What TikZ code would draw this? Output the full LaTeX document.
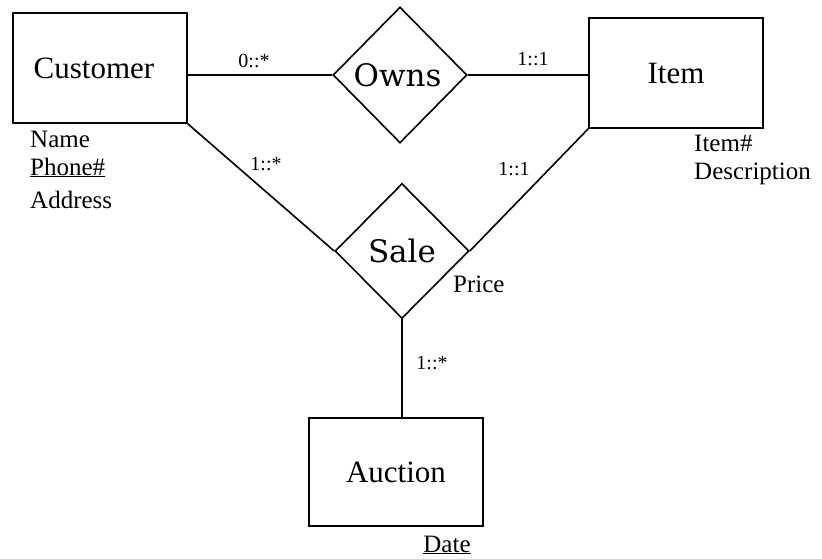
\documentclass[tikz,border=0pt]{standalone}
\usepackage{fontspec}
\setmainfont{Liberation Serif}
\newfontfamily\relfont{DejaVu Serif}
\usetikzlibrary{shapes.geometric}
\tikzset{
  entity/.style={draw, line width=1.6pt, rectangle, minimum width=174pt, minimum height=110pt, inner sep=0pt, font=\fontsize{31}{36}\selectfont},
  relation/.style={draw, line width=1.6pt, diamond, minimum width=134pt, minimum height=135pt, inner sep=0pt, aspect=1, font=\relfont\fontsize{31}{36}\selectfont},
  conn/.style={line width=1.6pt},
  card/.style={anchor=base, inner sep=0pt, font=\fontsize{20}{24}\selectfont},
  attr/.style={anchor=base west, inner sep=0pt, font=\fontsize{25}{30}\selectfont},
}
\begin{document}
\begin{tikzpicture}[x=1pt,y=-1pt]
\useasboundingbox (0,0) rectangle (822,558);
\node[entity] (cust) at (100,68) {\hspace*{-12pt}Customer};
\node[entity] (item) at (676,73) {Item};
\node[entity, minimum height=108pt] (auction) at (396,472) {Auction};
\node[relation, minimum height=136pt] (owns) at (400,75) {\raisebox{-2pt}{\hspace*{-5pt}Owns}};
\node[relation] (sale) at (402,251) {\raisebox{-2pt}{Sale}};

\draw[conn] (owns.west) -- (owns.west -| cust.east);
\draw[conn] (owns.east) -- (owns.east -| item.west);
\draw[conn] (cust.south east) -- (sale.west);
\draw[conn] (item.south west) -- (sale.east);
\draw[conn] (sale.south) -- (sale.south |- auction.north);

\node[card] (c1) at (254,67) {0::*};
\node[card] (c2) at (533,65) {1::1};
\node[card] (c3) at (266,170) {1::*};
\node[card] (c4) at (514,175) {1::1};
\node[card] (c5) at (432,369) {1::*};

\node[attr] (aname) at (30,147) {Name};
\node[attr] (aphone) at (30,175) {\underline{Phone\#}};
\node[attr] (aaddr) at (30,208) {Address};
\node[attr] (aitemno) at (694,151) {Item\#};
\node[attr] (adesc) at (694,179) {Description};
\node[attr] (aprice) at (453,292) {Price};
\node[attr, anchor=base] (adate) at (447,552) {\underline{Date}};
\end{tikzpicture}
\end{document}
